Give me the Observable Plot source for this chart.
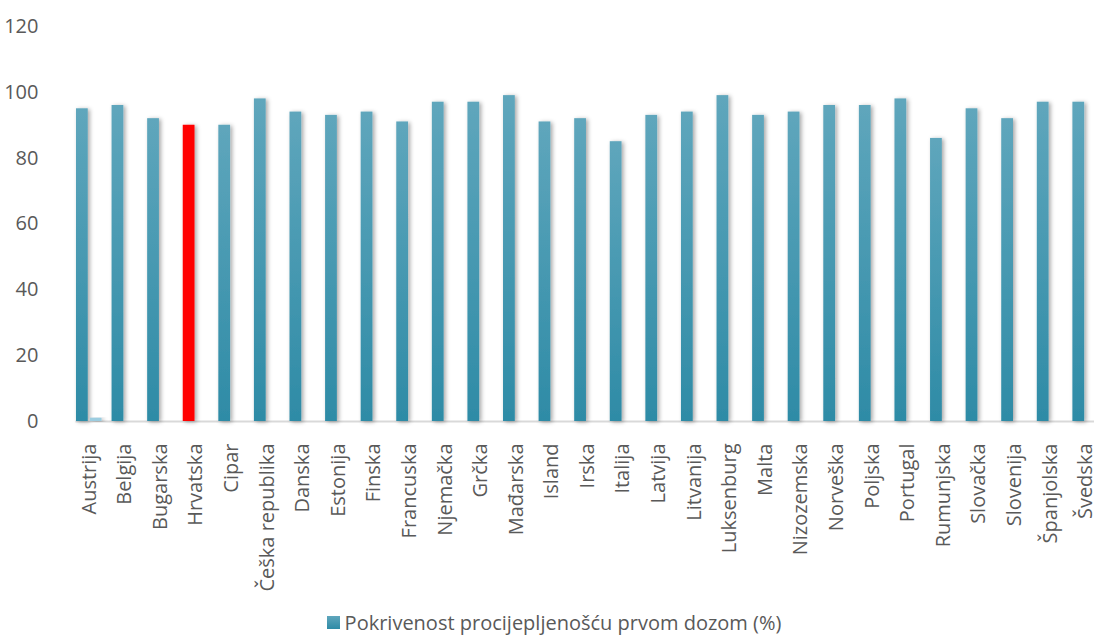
<!DOCTYPE html>
<html><head><meta charset="utf-8">
<script src="https://cdn.jsdelivr.net/npm/d3@7"></script>
<script src="https://cdn.jsdelivr.net/npm/@observablehq/plot@0.6"></script>
<style>
body{margin:0;background:#fff;font-family:"Open Sans",sans-serif}
#chart svg g[aria-label^="y-axis"] text{font-size:20px}
#legend{height:44px;display:flex;align-items:center;justify-content:center;padding-left:14px;box-sizing:border-box;color:#595959;font-size:20px}
#legend .sw{width:13px;height:13px;margin-right:5px;background:linear-gradient(#5fa6bc,#2e8ba6)}
</style>
</head><body><div id="chart"></div><div id="legend"></div>
<script>
const countries = ["Austrija","Belgija","Bugarska","Hrvatska","Cipar","Češka republika","Danska","Estonija","Finska","Francuska","Njemačka","Grčka","Mađarska","Island","Irska","Italija","Latvija","Litvanija","Luksenburg","Malta","Nizozemska","Norveška","Poljska","Portugal","Rumunjska","Slovačka","Slovenija","Španjolska","Švedska"];
const firstDose = [95,96,92,90,90,98,94,93,94,91,97,97,99,91,92,85,93,94,99,93,94,96,96,98,86,95,92,97,97];
const secondSeries = [1,0,0,0,0,0,0,0,0,0,0,0,0,0,0,0,0,0,0,0,0,0,0,0,0,0,0,0,0];
const seriesNames = ["Pokrivenost procijepljenošću prvom dozom (%)","Serija 2"];
const highlight = "Hrvatska";
const yTicks = [0,20,40,60,80,100,120];

const data = [];
countries.forEach((c,i)=>{
  data.push({country:c, series:seriesNames[0], value:firstDose[i]});
  data.push({country:c, series:seriesNames[1], value:secondSeries[i]});
});
const fillOf = d => d.series === seriesNames[1] ? "#9ccde0" : (d.country === highlight ? "#ff0000" : "url(#gradA)");

const plot = Plot.plot({
  width:1094, height:600, marginLeft:71, marginRight:-9, marginTop:26, marginBottom:179,
  style:{fontFamily:"Open Sans", fontSize:"20px", color:"#595959", background:"white", overflow:"visible"},
  color:{type:"identity"},
  fx:{domain:countries, round:false, paddingInner:0.28, paddingOuter:0.14, label:null, tickRotate:-90, tickSize:0, tickPadding:22},
  x:{domain:seriesNames, round:false, paddingInner:0.15, paddingOuter:0, axis:null},
  y:{domain:[0,120], ticks:yTicks, tickSize:0, tickPadding:38, label:null},
  marks:[
    Plot.frame({anchor:"bottom", stroke:"#d9d9d9", strokeWidth:2, facet:"super"}),
    Plot.barY(data, {fx:"country", x:"series", y:"value", fill:fillOf})
  ]
});
document.getElementById("chart").appendChild(plot);
const svg = plot.tagName === "svg" ? plot : plot.querySelector("svg");
const ns = "http://www.w3.org/2000/svg";
const defs = document.createElementNS(ns,"defs");
defs.innerHTML = `<linearGradient id="gradA" x1="0" y1="0" x2="0" y2="1"><stop offset="0" stop-color="#5fa6bc"/><stop offset="1" stop-color="#2e8ba6"/></linearGradient>
<filter id="shadow" x="-60%" y="-5%" width="220%" height="112%"><feDropShadow dx="2" dy="1" stdDeviation="2" flood-color="#000" flood-opacity="0.35"/></filter>`;
svg.insertBefore(defs, svg.firstChild);
svg.querySelectorAll('g[aria-label="bar"] rect').forEach(r=>r.setAttribute("filter","url(#shadow)"));

const lg = document.getElementById("legend");
lg.innerHTML = `<span class="sw"></span><span>${seriesNames[0]}</span>`;
</script>
</body></html>
